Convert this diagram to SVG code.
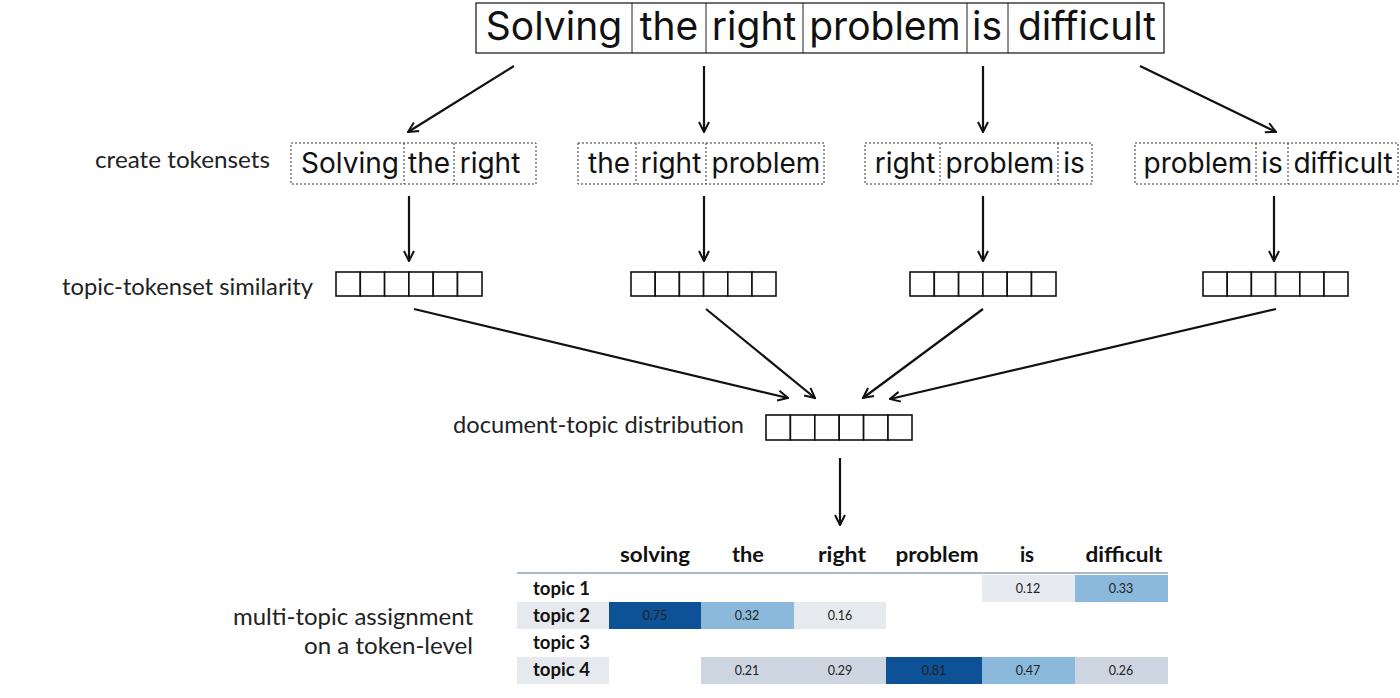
<svg xmlns="http://www.w3.org/2000/svg" width="1400" height="698" viewBox="0 0 1400 698">
<style>
.sent{font-family:Inter,"Liberation Sans",sans-serif;font-size:39px;fill:#111;text-anchor:middle}
.tok{font-family:Inter,"Liberation Sans",sans-serif;font-size:28px;fill:#111;text-anchor:middle}
.lbl{font-family:Lato,"Open Sans",sans-serif;font-size:22.5px;fill:#222;text-anchor:end}
.hdr{font-family:Lato,"Open Sans",sans-serif;font-size:20.5px;font-weight:700;fill:#111;text-anchor:middle}
.tl{font-family:Lato,"Open Sans",sans-serif;font-size:18.5px;font-weight:700;fill:#111}
.num{font-family:Lato,"Open Sans",sans-serif;font-size:12.5px;fill:#222;text-anchor:middle}
.box{fill:none;stroke:#222;stroke-width:1.3}
.dot{fill:none;stroke:#333;stroke-width:1;stroke-dasharray:2,2}
.vec{fill:#fff;stroke:#111;stroke-width:1.6}
.arr{stroke:#111;stroke-width:2.2;fill:none;marker-end:url(#ah)}
.dark{fill:#0d5196}
.lb{fill:#8ab9dc}
.lg{fill:#e6e9ed}
.mg{fill:#cdd6e0}
</style>
<defs>
<marker id="ah" viewBox="0 0 12 12" refX="11" refY="6" markerWidth="12" markerHeight="12" markerUnits="userSpaceOnUse" orient="auto">
<path d="M1,1 L11,6 L1,11" fill="none" stroke="#111" stroke-width="2"/>
</marker>
</defs>

<g id="sentence">
<rect class="box" x="476" y="3" width="688" height="50"/>
<line x1="632" y1="3" x2="632" y2="53" stroke="#222" stroke-width="1"/>
<line x1="706" y1="3" x2="706" y2="53" stroke="#222" stroke-width="1"/>
<line x1="803" y1="3" x2="803" y2="53" stroke="#222" stroke-width="1"/>
<line x1="967" y1="3" x2="967" y2="53" stroke="#222" stroke-width="1"/>
<line x1="1008" y1="3" x2="1008" y2="53" stroke="#222" stroke-width="1"/>
<text class="sent" x="554" y="40">Solving</text>
<text class="sent" x="669" y="40">the</text>
<text class="sent" x="754" y="40">right</text>
<text class="sent" x="885" y="40">problem</text>
<text class="sent" x="987" y="40">is</text>
<text class="sent" x="1087" y="40">difficult</text>
</g>

<g id="labels">
<text class="lbl" x="270" y="168" textLength="175" lengthAdjust="spacingAndGlyphs">create tokensets</text>
<text class="lbl" x="313" y="295" textLength="251" lengthAdjust="spacingAndGlyphs">topic-tokenset similarity</text>
<text class="lbl" x="744" y="433" textLength="291" lengthAdjust="spacingAndGlyphs">document-topic distribution</text>
<text class="lbl" x="473" y="625" textLength="240" lengthAdjust="spacingAndGlyphs">multi-topic assignment</text>
<text class="lbl" x="473" y="654" textLength="169" lengthAdjust="spacingAndGlyphs">on a token-level</text>
</g>

<g id="tokenset1">
<rect class="dot" x="291" y="143" width="245" height="41"/>
<line class="dot" x1="404" y1="143" x2="404" y2="184"/>
<line class="dot" x1="454" y1="143" x2="454" y2="184"/>
<text class="tok" x="350" y="173">Solving</text>
<text class="tok" x="429" y="173">the</text>
<text class="tok" x="490" y="173">right</text>
</g>
<g id="tokenset2">
<rect class="dot" x="578" y="143" width="246" height="41"/>
<line class="dot" x1="636" y1="143" x2="636" y2="184"/>
<line class="dot" x1="706" y1="143" x2="706" y2="184"/>
<text class="tok" x="609" y="173">the</text>
<text class="tok" x="671" y="173">right</text>
<text class="tok" x="766" y="173">problem</text>
</g>
<g id="tokenset3">
<rect class="dot" x="865" y="143" width="227" height="41"/>
<line class="dot" x1="940" y1="143" x2="940" y2="184"/>
<line class="dot" x1="1058" y1="143" x2="1058" y2="184"/>
<text class="tok" x="905" y="173">right</text>
<text class="tok" x="1000" y="173">problem</text>
<text class="tok" x="1074" y="173">is</text>
</g>
<g id="tokenset4">
<rect class="dot" x="1135" y="143" width="263" height="41"/>
<line class="dot" x1="1256" y1="143" x2="1256" y2="184"/>
<line class="dot" x1="1288" y1="143" x2="1288" y2="184"/>
<text class="tok" x="1198" y="173">problem</text>
<text class="tok" x="1272" y="173">is</text>
<text class="tok" x="1343" y="173">difficult</text>
</g>

<g id="vector1">
<rect class="vec" x="336" y="272" width="24.3" height="24"/><rect class="vec" x="360.3" y="272" width="24.3" height="24"/><rect class="vec" x="384.6" y="272" width="24.3" height="24"/><rect class="vec" x="408.9" y="272" width="24.3" height="24"/><rect class="vec" x="433.2" y="272" width="24.3" height="24"/><rect class="vec" x="457.5" y="272" width="24.5" height="24"/>
</g>
<g id="vector2">
<rect class="vec" x="631" y="272" width="24.2" height="24"/><rect class="vec" x="655.2" y="272" width="24.2" height="24"/><rect class="vec" x="679.4" y="272" width="24.2" height="24"/><rect class="vec" x="703.6" y="272" width="24.2" height="24"/><rect class="vec" x="727.8" y="272" width="24.2" height="24"/><rect class="vec" x="752" y="272" width="24" height="24"/>
</g>
<g id="vector3">
<rect class="vec" x="910" y="272" width="24.3" height="24"/><rect class="vec" x="934.3" y="272" width="24.3" height="24"/><rect class="vec" x="958.6" y="272" width="24.3" height="24"/><rect class="vec" x="982.9" y="272" width="24.3" height="24"/><rect class="vec" x="1007.2" y="272" width="24.3" height="24"/><rect class="vec" x="1031.5" y="272" width="24.5" height="24"/>
</g>
<g id="vector4">
<rect class="vec" x="1203" y="272" width="24.2" height="24"/><rect class="vec" x="1227.2" y="272" width="24.2" height="24"/><rect class="vec" x="1251.4" y="272" width="24.2" height="24"/><rect class="vec" x="1275.6" y="272" width="24.2" height="24"/><rect class="vec" x="1299.8" y="272" width="24.2" height="24"/><rect class="vec" x="1324" y="272" width="24" height="24"/>
</g>
<g id="doc-vector">
<rect class="vec" x="766" y="415" width="24.4" height="25"/><rect class="vec" x="790.4" y="415" width="24.4" height="25"/><rect class="vec" x="814.8" y="415" width="24.4" height="25"/><rect class="vec" x="839.2" y="415" width="24.4" height="25"/><rect class="vec" x="863.6" y="415" width="24.4" height="25"/><rect class="vec" x="888" y="415" width="24" height="25"/>
</g>

<g id="connectors">
<line class="arr" x1="514" y1="66" x2="408" y2="132"/>
<line class="arr" x1="704" y1="66" x2="704" y2="132"/>
<line class="arr" x1="983" y1="66" x2="983" y2="132"/>
<line class="arr" x1="1140" y1="66" x2="1276" y2="132"/>
<line class="arr" x1="409" y1="196" x2="409" y2="261"/>
<line class="arr" x1="704" y1="196" x2="704" y2="261"/>
<line class="arr" x1="983" y1="196" x2="983" y2="261"/>
<line class="arr" x1="1274" y1="196" x2="1274" y2="261"/>
<line class="arr" x1="414" y1="309" x2="788" y2="398"/>
<line class="arr" x1="706" y1="309" x2="815" y2="398"/>
<line class="arr" x1="983" y1="309" x2="863" y2="398"/>
<line class="arr" x1="1276" y1="309" x2="890" y2="399"/>
<line class="arr" x1="840" y1="458" x2="840" y2="525"/>
</g>

<g id="table">
<text class="hdr" x="655" y="562" textLength="70" lengthAdjust="spacingAndGlyphs">solving</text>
<text class="hdr" x="748" y="562" textLength="32" lengthAdjust="spacingAndGlyphs">the</text>
<text class="hdr" x="842" y="562" textLength="48" lengthAdjust="spacingAndGlyphs">right</text>
<text class="hdr" x="937" y="562" textLength="83" lengthAdjust="spacingAndGlyphs">problem</text>
<text class="hdr" x="1027" y="562">is</text>
<text class="hdr" x="1124" y="562" textLength="77" lengthAdjust="spacingAndGlyphs">difficult</text>
<line x1="517" y1="573" x2="1168" y2="573" stroke="#aab8c8" stroke-width="2"/>
<rect class="lg" x="982" y="575" width="93" height="27"/>
<rect class="lb" x="1075" y="575" width="93" height="27"/>
<rect class="lg" x="517" y="602" width="92" height="27"/>
<rect class="dark" x="609" y="602" width="92" height="27"/>
<rect class="lb" x="701" y="602" width="93" height="27"/>
<rect class="lg" x="794" y="602" width="92" height="27"/>
<rect class="lg" x="517" y="657" width="92" height="27"/>
<rect class="mg" x="701" y="657" width="93" height="27"/>
<rect class="mg" x="794" y="657" width="92" height="27"/>
<rect class="dark" x="886" y="657" width="96" height="27"/>
<rect class="lb" x="982" y="657" width="93" height="27"/>
<rect class="mg" x="1075" y="657" width="93" height="27"/>
<text class="tl" x="533" y="595" textLength="57" lengthAdjust="spacingAndGlyphs">topic 1</text>
<text class="tl" x="533" y="622" textLength="57" lengthAdjust="spacingAndGlyphs">topic 2</text>
<text class="tl" x="533" y="649" textLength="57" lengthAdjust="spacingAndGlyphs">topic 3</text>
<text class="tl" x="533" y="676" textLength="57" lengthAdjust="spacingAndGlyphs">topic 4</text>
<text class="num" x="1028" y="593">0.12</text>
<text class="num" x="1121" y="593">0.33</text>
<text class="num" x="655" y="620">0.75</text>
<text class="num" x="747" y="620">0.32</text>
<text class="num" x="840" y="620">0.16</text>
<text class="num" x="747" y="675">0.21</text>
<text class="num" x="840" y="675">0.29</text>
<text class="num" x="934" y="675">0.81</text>
<text class="num" x="1028" y="675">0.47</text>
<text class="num" x="1121" y="675">0.26</text>
</g>
</svg>
